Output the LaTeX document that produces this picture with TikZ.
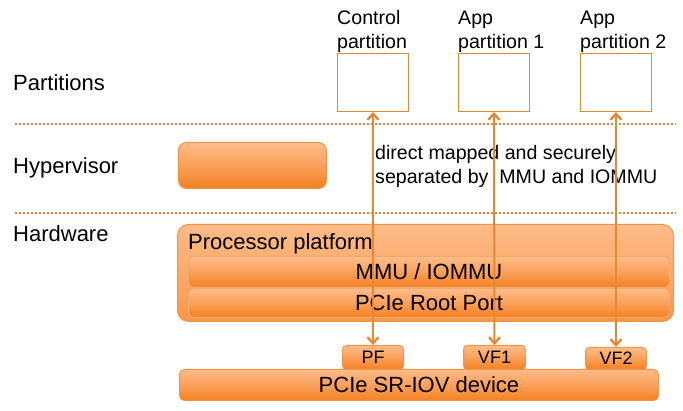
\documentclass[tikz,border=0pt]{standalone}
\usepackage{fontspec}
\setmainfont{Liberation Sans}
\usetikzlibrary{arrows.meta}
\definecolor{olight}{RGB}{253,188,136}
\definecolor{omid}{RGB}{251,160,90}
\definecolor{odark}{RGB}{244,128,32}
\definecolor{oline}{RGB}{228,136,50}
\definecolor{oborder}{RGB}{238,150,72}
\definecolor{odot}{RGB}{237,125,49}
\begin{document}
\begin{tikzpicture}[x=1pt,y=-1pt,
  big/.style={font=\fontsize{22}{26}\selectfont, inner sep=0pt},
  mid/.style={font=\fontsize{19.6}{24}\selectfont, inner sep=0pt, align=left},
  small/.style={font=\fontsize{18}{20}\selectfont, inner sep=0pt},
  obox/.style={draw=oborder, line width=1pt, top color=olight, bottom color=odark, middle color=omid, rounded corners=4pt, anchor=north west, inner sep=0pt},
  pbox/.style={draw=oline, line width=1pt, fill=white, anchor=north west, inner sep=0pt, minimum width=71pt, minimum height=58pt},
  divider/.style={draw=odot, line width=2.2pt, dash pattern=on 2pt off 2pt},
  arr/.style={draw=oline, line width=2pt, {Straight Barb[length=6pt,width=11pt,line width=2.4pt]}-{Straight Barb[length=6pt,width=11pt,line width=2.4pt]}}
]
\useasboundingbox (0,0) rectangle (683,411);

% layer labels
\node[big, anchor=base west] (lpart) at (13,91) {Partitions};
\node[big, anchor=base west] (lhyp) at (13,174) {Hypervisor};
\node[big, anchor=base west] (lhw) at (13,242) {Hardware};

% dividers
\coordinate (d1a) at (15,124); \coordinate (d1b) at (676,124);
\coordinate (d2a) at (15,213); \coordinate (d2b) at (676,213);
\path[divider] (d1a) -- (d1b);
\path[divider] (d2a) -- (d2b);

% partitions
\node[pbox] (cp) at (337,53) {};
\node[pbox] (ap1) at (458,53) {};
\node[pbox] (ap2) at (580,53) {};
\node[mid, anchor=north west] (tcp) at (337,10.5) {Control\\partition};
\node[mid, anchor=north west] (tap1) at (458,10.5) {App\\partition 1};
\node[mid, anchor=north west] (tap2) at (580,10.5) {App\\partition 2};

% hypervisor
\node[obox, rounded corners=8pt, minimum width=148pt, minimum height=46pt] (hyp) at (178,142) {};

% note
\node[mid, anchor=north west] (note) at (375,145) {direct mapped and securely\\separated by\ \ MMU and IOMMU};

% processor platform
\node[obox, rounded corners=11pt, top color=olight, middle color=olight!80!omid, bottom color=omid!70!odark, minimum width=496pt, minimum height=97pt] (proc) at (177,224) {};
\node[big, anchor=base west] (tproc) at (188,250) {Processor platform};
\node[obox, draw=oborder!80, rounded corners=5pt, minimum width=481pt, minimum height=31pt, big] (mmu) at (188,256) {MMU / IOMMU};
\node[obox, draw=oborder!80, rounded corners=5pt, minimum width=481pt, minimum height=29pt, big] (rp) at (188,288) {PCIe Root Port};

% functions
\node[obox, minimum width=61pt, minimum height=24pt, small] (pf) at (342,345) {PF};
\node[obox, minimum width=62pt, minimum height=24pt, small] (vf1) at (463,345) {VF1};
\node[obox, minimum width=61pt, minimum height=22pt, small] (vf2) at (585,347) {VF2};

% device
\node[obox, rounded corners=5pt, minimum width=479pt, minimum height=31pt, big] (dev) at (179,369) {PCIe SR-IOV device};

% connectors
\draw[arr] (cp.south) -- (pf.north);
\draw[arr] (ap1.south) -- (vf1.north);
\draw[arr] (ap2.south) -- (vf2.north);
\end{tikzpicture}
\end{document}
